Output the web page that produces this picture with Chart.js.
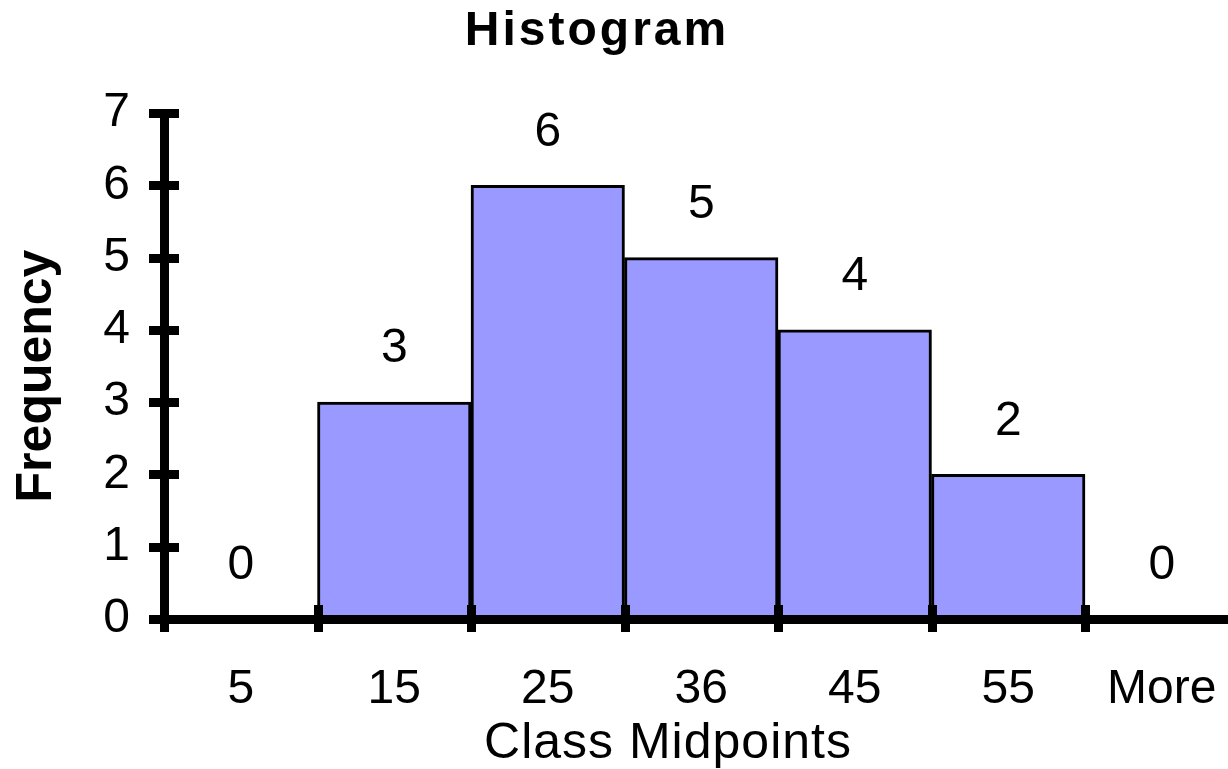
<!DOCTYPE html>
<html>
<head>
<meta charset="utf-8">
<script src="https://cdn.jsdelivr.net/npm/chart.js@4/dist/chart.umd.min.js"></script>
<style>
  html, body { margin: 0; padding: 0; overflow: hidden; background: #ffffff; }
  #frame { width: 1228px; height: 769px; overflow: hidden; position: relative; }
  canvas { display: block; position: absolute; left: 0; top: 0; }
</style>
</head>
<body>
<div id="frame">
<canvas id="histogram" width="1240" height="769"></canvas>
</div>
<script>
// Histogram data
const categories = ['5', '15', '25', '36', '45', '55', 'More'];
const frequencies = [0, 3, 6, 5, 4, 2, 0];
const yTicks = [0, 1, 2, 3, 4, 5, 6, 7];
const chartTitle = 'Histogram';
const xAxisTitle = 'Class Midpoints';
const yAxisTitle = 'Frequency';

const FONT = '"Liberation Sans", Arial, Helvetica, sans-serif';

// Tick marks crossing the axes, value labels above the bars, and the titles
const decorations = {
  id: 'decorations',
  afterDraw(chart) {
    const { ctx, chartArea: area, scales: { x, y } } = chart;
    ctx.save();
    ctx.strokeStyle = '#000000';
    ctx.lineWidth = 9;
    ctx.lineCap = 'butt';
    const line = (x1, y1, x2, y2) => {
      ctx.beginPath();
      ctx.moveTo(x1, y1);
      ctx.lineTo(x2, y2);
      ctx.stroke();
    };
    y.ticks.forEach(t => {
      const py = Math.round(y.getPixelForValue(t.value)) + 0.5;
      line(area.left - 15, py, area.left + 15, py);
    });
    for (let i = 0; i <= categories.length; i++) {
      const px = Math.round(x.getPixelForValue(i - 0.5)) + 0.5;
      line(px, area.bottom - 14, px, area.bottom + 13);
    }

    ctx.fillStyle = '#000000';
    ctx.textAlign = 'center';
    ctx.textBaseline = 'middle';
    ctx.font = `48px ${FONT}`;
    const meta = chart.getDatasetMeta(0);
    meta.data.forEach((bar, i) => {
      ctx.fillText(String(frequencies[i]), bar.x, y.getPixelForValue(frequencies[i]) - 53);
    });

    ctx.font = `50px ${FONT}`;
    ctx.letterSpacing = '1px';
    ctx.fillText(xAxisTitle, 668, 744);

    ctx.font = `bold 48px ${FONT}`;
    ctx.letterSpacing = '3px';
    ctx.fillText(chartTitle, 597, 32);
    ctx.letterSpacing = '0px';

    ctx.font = `bold 50px ${FONT}`;
    ctx.translate(37, 376);
    ctx.rotate(-Math.PI / 2);
    ctx.fillText(yAxisTitle, 0, 0);
    ctx.restore();
  }
};

new Chart(document.getElementById('histogram'), {
  type: 'bar',
  data: {
    labels: categories,
    datasets: [{
      data: frequencies,
      backgroundColor: '#9999FF',
      borderColor: '#000000',
      borderWidth: 3,
      barPercentage: 1,
      categoryPercentage: 1
    }]
  },
  options: {
    responsive: false,
    animation: false,
    devicePixelRatio: 1,
    // the last class runs a little past the visible right edge
    layout: { padding: { top: 113, right: 1.5, left: 0, bottom: 0 } },
    plugins: {
      legend: { display: false },
      tooltip: { enabled: false },
      title: { display: false }
    },
    scales: {
      x: {
        type: 'category',
        offset: true,
        grid: { display: false, drawTicks: true, tickLength: 42, offset: true },
        border: { display: true, color: '#000000', width: 9, z: 1 },
        ticks: {
          color: '#000000',
          font: { family: FONT, size: 48 },
          padding: 0,
          maxRotation: 0,
          autoSkip: false
        },
        afterFit: scale => { scale.height = 150; }
      },
      y: {
        min: 0,
        max: 7,
        grid: { display: false, drawTicks: false },
        border: { display: true, color: '#000000', width: 9, z: 1 },
        ticks: {
          color: '#000000',
          font: { family: FONT, size: 48 },
          padding: 34
        },
        afterBuildTicks: scale => { scale.ticks = yTicks.map(v => ({ value: v })); },
        afterFit: scale => { scale.width = 164; }
      }
    }
  },
  plugins: [decorations]
});
</script>
</body>
</html>
